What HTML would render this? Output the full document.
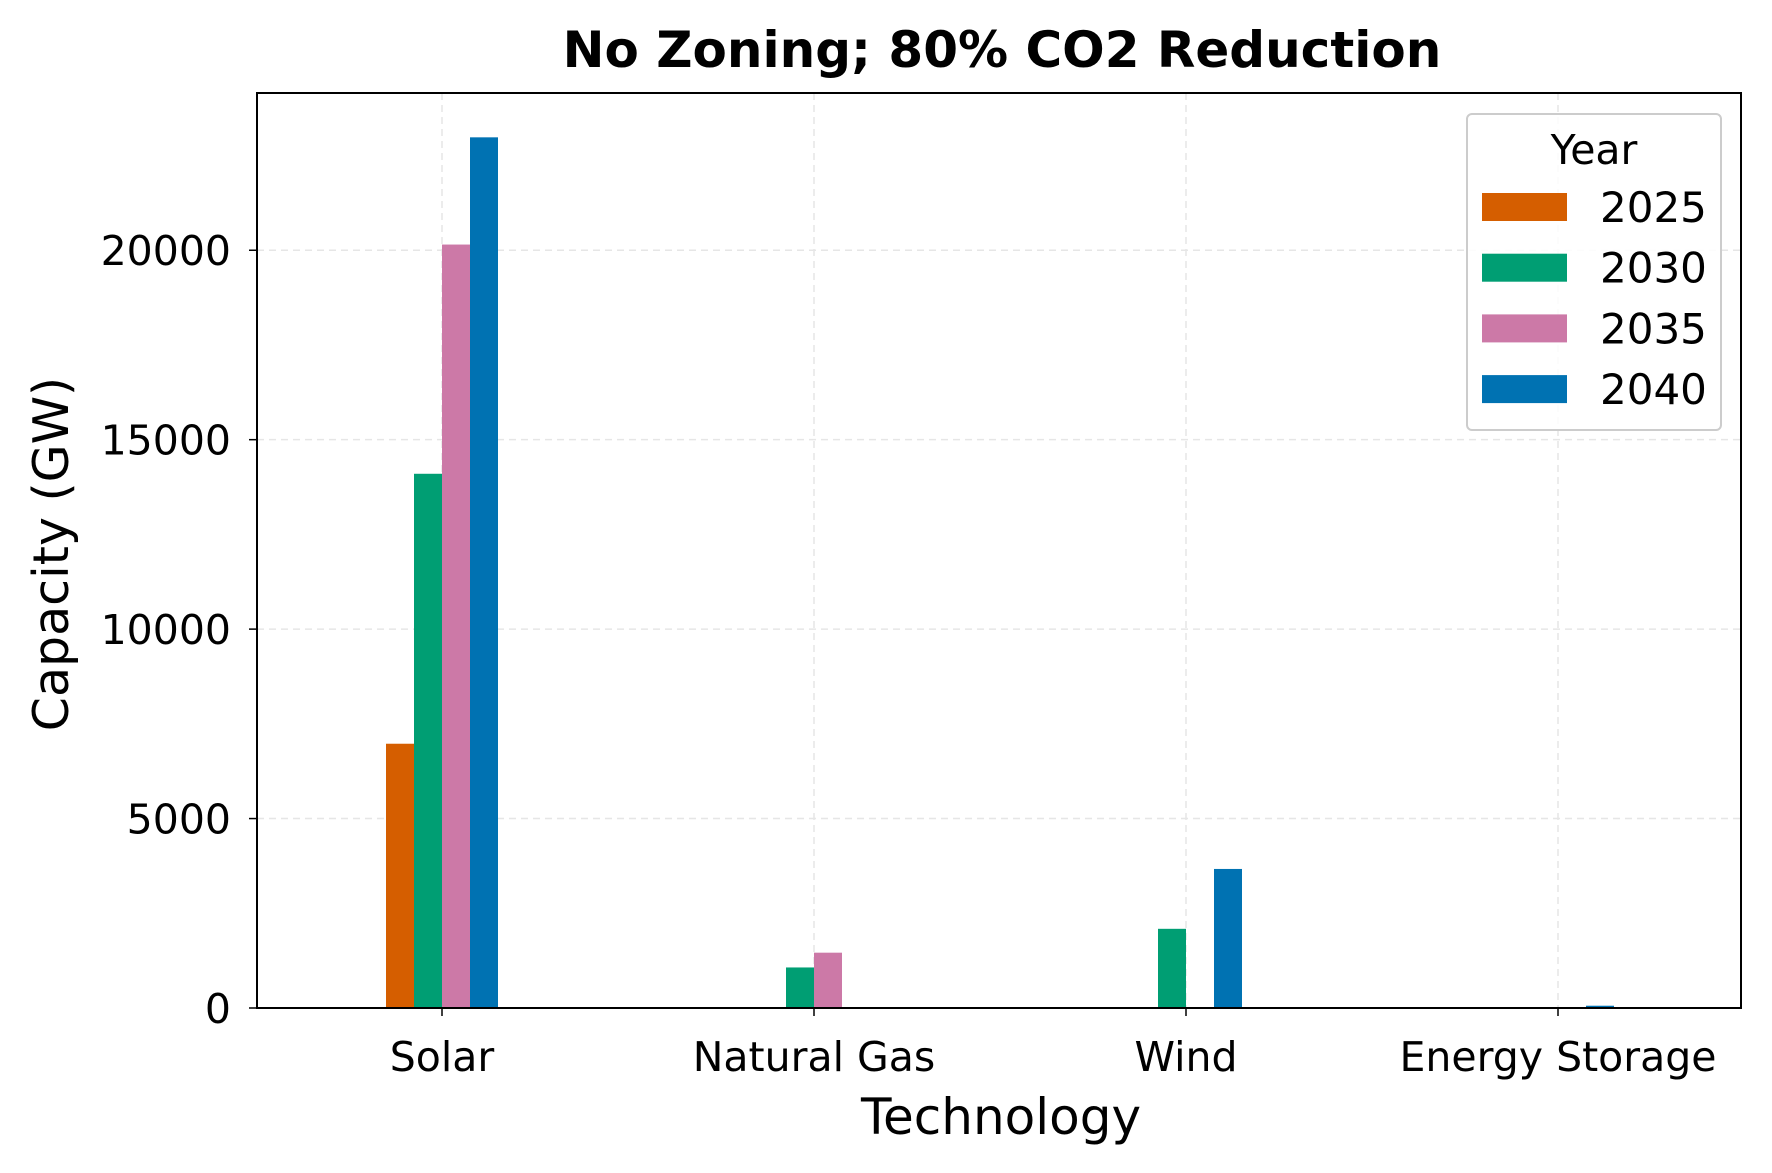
<!DOCTYPE html>
<html><head><meta charset="utf-8"><style>
html,body{margin:0;padding:0;background:#fff;}
svg{display:block;font-family:"DejaVu Sans","Liberation Sans",sans-serif;}
</style></head><body>
<svg id="chart" width="1772" height="1173" viewBox="0 0 1772 1173">
<rect width="1772" height="1173" fill="#fff"/>
<text x="1002" y="67" text-anchor="middle" font-size="50" font-weight="bold">No Zoning; 80% CO2 Reduction</text>
<g id="grid"></g>
<g id="bars"></g>
<rect x="257" y="93" width="1484" height="915" fill="none" stroke="#000" stroke-width="2"/>
<g id="axes"></g>
<text x="1001" y="1134" text-anchor="middle" font-size="50">Technology</text>
<text transform="translate(68,554) rotate(-90)" text-anchor="middle" font-size="49">Capacity (GW)</text>
<g id="legend"></g>
</svg>
<script>
const categories = ["Solar","Natural Gas","Wind","Energy Storage"];
const years = ["2025","2030","2035","2040"];
const s2025 = [6975, 0, 0, 0];
const s2030 = [14100, 1070, 2090, 0];
const s2035 = [20150, 1460, 0, 0];
const s2040 = [22980, 0, 3670, 60];
const yTicks = [0,5000,10000,15000,20000];
const colors = ["#d55e00","#009e73","#cc79a7","#0072b2"];
const series = [s2025,s2030,s2035,s2040];

const NS="http://www.w3.org/2000/svg";
const L=257,R=1741,T=93,B=1008;
const yMax=24150;
function y(v){return B-(v/yMax)*(B-T);}
function cx(i){return 442+i*372;}
const bw=28;
function mk(tag,attrs,parent){const e=document.createElementNS(NS,tag);for(const k in attrs)e.setAttribute(k,attrs[k]);parent.appendChild(e);return e;}
const grid=document.getElementById('grid'),bars=document.getElementById('bars'),axes=document.getElementById('axes'),legend=document.getElementById('legend');
yTicks.forEach(t=>{
  const g=mk('line',{x1:L,x2:R,y1:y(t),y2:y(t),stroke:'#e6e6e6','stroke-width':1.5,'stroke-dasharray':'7,5'},grid);
  
  
  const tk=mk('line',{x1:L-8,x2:L,y1:y(t),y2:y(t),stroke:'#000','stroke-width':1.5},axes);
  
  
  const tx=mk('text',{x:L-26,y:y(t)+15,'text-anchor':'end','font-size':41},axes);
  tx.textContent=t;
  
  
});
categories.forEach((c,i)=>{
  const g=mk('line',{x1:cx(i),x2:cx(i),y1:T,y2:B,stroke:'#e6e6e6','stroke-width':1.5,'stroke-dasharray':'7,5'},grid);
  
  
  const tk=mk('line',{x1:cx(i),x2:cx(i),y1:B,y2:B+8,stroke:'#000','stroke-width':1.5},axes);
  
  
  const tx=mk('text',{x:cx(i),y:B+63,'text-anchor':'middle','font-size':41},axes);
  tx.textContent=c;
  
  
  series.forEach((s,j)=>{
    const v=s[i]; if(v<=0)return;
    const r=mk('rect',{x:cx(i)+(j-2)*bw,y:y(v),width:bw,height:B-y(v),fill:colors[j]},bars);
    
    
  });
});
const lb=mk('rect',{x:1467,y:114,width:254,height:316,rx:5,fill:'#fff','fill-opacity':0.85,stroke:'#ccc','stroke-width':2},legend);


const lt=mk('text',{x:1594,y:164,'text-anchor':'middle','font-size':41},legend);
lt.textContent='Year';


years.forEach((yr,j)=>{
  const yy=193+j*60.7;
  const sw=mk('rect',{x:1482,y:yy,width:85,height:28,fill:colors[j]},legend);
  
  
  const t=mk('text',{x:1600,y:yy+29,'font-size':42},legend);
  t.textContent=yr;
  
  
});
</script>
</body></html>
